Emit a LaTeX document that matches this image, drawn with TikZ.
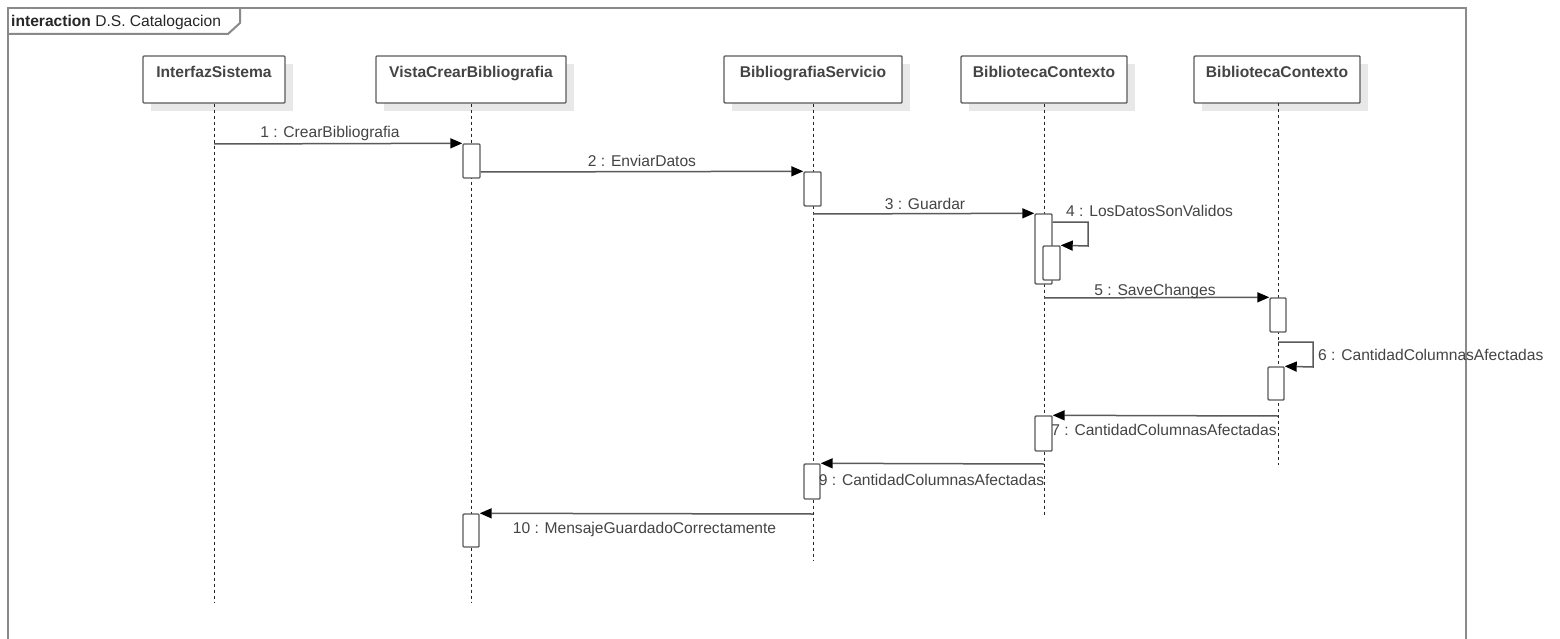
\documentclass[tikz,border=0pt]{standalone}
\usepackage{fontspec}
\setmainfont{Liberation Sans}
\usetikzlibrary{arrows.meta}
\definecolor{linegray}{HTML}{5A5A5A}
\definecolor{framegray}{HTML}{8A8A8A}
\definecolor{txtgray}{HTML}{444444}
\definecolor{shadowgray}{HTML}{E8E8E8}
\tikzset{
  head/.style={draw=linegray, line width=1.4pt, fill=white, rounded corners=1pt, minimum height=47pt, inner sep=0pt},
  headshadow/.style={fill=shadowgray, inner sep=0pt},
  headtxt/.style={anchor=base, font=\fontsize{15.6}{18}\selectfont\bfseries, text=txtgray, inner sep=0pt},
  lifeline/.style={draw=black!85, line width=1pt, dash pattern=on 3pt off 3pt},
  act/.style={draw=linegray, line width=1.4pt, fill=white, rounded corners=1pt, minimum width=17pt, inner sep=0pt},
  msg/.style={draw=linegray, line width=1.5pt, -{Triangle[length=12pt,width=10pt,fill=black,color=black]}},
  lbl/.style={anchor=base, font=\fontsize{15.6}{18}\selectfont, text=txtgray, inner sep=0pt},
  frameline/.style={draw=framegray, line width=2pt}
}
\begin{document}
\begin{tikzpicture}[x=1pt,y=-1pt]
\useasboundingbox (0,0) rectangle (1560,639);
\fill[white] (0,0) rectangle (1560,639);
% frame
\begin{scope}
\clip (0,0) rectangle (1560,639);
\draw[frameline] (8,8) rectangle (1466,660);
\end{scope}
\draw[frameline] (8,34) -- (228,34) -- (240,23) -- (240,8);
\node[anchor=base west, inner sep=0pt, font=\fontsize{15.6}{18}\selectfont, text=black!85] (title) at (11,27) {\textbf{interaction} D.S. Catalogacion};

% lifeline heads (shadows)
\fill[shadowgray] (151,64) rectangle (293,111);
\fill[shadowgray] (384,64) rectangle (574,111);
\fill[shadowgray] (732,64) rectangle (910,111);
\fill[shadowgray] (969,64) rectangle (1135,111);
\fill[shadowgray] (1202,64) rectangle (1368,111);

% heads
\node[head, minimum width=142pt] (h1) at (214,79.5) {};
\node[head, minimum width=190pt] (h2) at (471,79.5) {};
\node[head, minimum width=178pt] (h3) at (813,79.5) {};
\node[head, minimum width=166pt] (h4) at (1044,79.5) {};
\node[head, minimum width=166pt] (h5) at (1277,79.5) {};
\node[headtxt] (t1) at (214,78) {InterfazSistema};
\node[headtxt] (t2) at (471,78) {VistaCrearBibliografia};
\node[headtxt] (t3) at (813,78) {BibliografiaServicio};
\node[headtxt] (t4) at (1044,78) {BibliotecaContexto};
\node[headtxt] (t5) at (1277,78) {BibliotecaContexto};

% lifeline ends
\coordinate (e1) at (214,603);
\coordinate (e2) at (471,603);
\coordinate (e3) at (813,560);
\coordinate (e4) at (1044,515);
\coordinate (e5) at (1278,465);
\draw[lifeline] (h1.south) -- (e1);
\draw[lifeline] (h2.south) -- (e2);
\draw[lifeline] (h3.south) -- (e3);
\draw[lifeline] (h4.south) -- (e4);
\draw[lifeline] (1278,103) -- (e5);

% activations
\node[act, minimum height=34pt] (a1) at (471.5,161) {};
\node[act, minimum height=34pt] (a2) at (812.5,189) {};
\node[act, minimum height=70pt] (a3) at (1043.5,249) {};
\node[act, minimum height=34pt] (a4) at (1051.5,263) {};
\node[act, minimum height=34pt, minimum width=16pt] (a5) at (1278,315) {};
\node[act, minimum height=33pt, minimum width=16pt] (a6) at (1276,383.5) {};
\node[act, minimum height=35pt] (a7) at (1043.5,433.5) {};
\node[act, minimum height=35pt, minimum width=16pt] (a8) at (812,481.5) {};
\node[act, minimum height=33pt, minimum width=16pt] (a9) at (471,530.5) {};

% message start points
\coordinate (s1) at (214,144);
\coordinate (s2) at (a1.east |- 0,172);
\coordinate (s3) at (813,214);
\coordinate (s4) at (a3.east |- 0,222);
\coordinate (s5) at (1044,298);
\coordinate (s6) at (1278,342);
\coordinate (s7) at (1278,416);
\coordinate (s9) at (1044,464);
\coordinate (s10) at (813,514);

\draw[msg] (s1) -- (a1.north west);
\draw[msg] (s2) -- (a2.north west);
\draw[msg] (s3) -- (a3.north west);
\draw[msg] (s4) -- (1088,222) -- (1088,246) -- (a4.north east);
\draw[msg] (s5) -- (a5.north west);
\draw[msg] (s6) -- (1313,342) -- (1313,367) -- (a6.north east);
\draw[msg] (s7) -- (a7.north east);
\draw[msg] (s9) -- (a8.north east);
\draw[msg] (s10) -- (a9.north east);

% labels
\node[lbl] (l1) at (330,138) {1 : CrearBibliografia};
\node[lbl] (l2) at (642,167) {2 : EnviarDatos};
\node[lbl] (l3) at (925,209) {3 : Guardar};
\node[lbl, anchor=base west] (l4) at (1066,217) {4 : LosDatosSonValidos};
\node[lbl] (l5) at (1155,295) {5 : SaveChanges};
\node[lbl, anchor=base west] (l6) at (1318,360) {6 : CantidadColumnasAfectadas};
\node[lbl] (l7) at (1164,435) {7 : CantidadColumnasAfectadas};
\node[lbl] (l9) at (931.5,485) {9 : CantidadColumnasAfectadas};
\node[lbl] (l10) at (644.5,533) {10 : MensajeGuardadoCorrectamente};
\end{tikzpicture}
\end{document}
